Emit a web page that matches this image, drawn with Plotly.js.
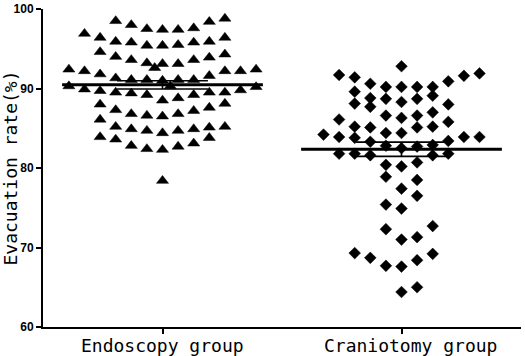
<!DOCTYPE html>
<html><head><meta charset="utf-8">
<script src="https://cdn.plot.ly/plotly-3.0.1.min.js"></script>
<style>html,body{margin:0;padding:0;background:#fff;} #chart{width:525px;height:356px;}</style>
</head><body><div id="chart"></div>
<script>
// ---- data ----
const groups = ['Endoscopy group', 'Craniotomy group'];

const endoscopyRates = [
  98.5, 98.0, 97.5, 97.4, 97.4, 97.6, 98.4, 98.8,
  96.9, 96.4, 95.9, 95.8, 95.4, 95.4, 95.5, 95.8, 95.9, 96.4,
  94.6, 94.0, 93.6, 93.2, 93.1, 93.1, 93.6, 93.9, 94.3, 92.6,
  92.4, 92.2, 91.8, 91.1, 91.1, 91.1, 91.0, 91.1, 91.3, 91.6, 92.2, 92.2, 92.4,
  90.3, 89.9, 89.7, 89.5, 89.4, 89.2, 88.5, 88.8, 89.2, 89.5, 89.5, 89.8, 90.3, 90.2,
  88.0, 87.3, 86.8, 86.6, 86.5, 86.8, 87.2, 87.6, 88.1,
  86.1, 85.2, 84.9, 84.7, 84.4, 84.7, 84.9, 85.1, 85.2,
  83.9, 83.6, 82.8, 82.4, 82.3, 82.7, 83.1, 83.8,
  78.4
];

const craniotomyRates = [
  92.8, 91.9, 91.7, 91.6, 91.4, 90.9, 90.6, 90.2, 90.2, 90.2, 90.2,
  89.6, 89.1, 88.8, 88.7, 88.7, 88.3, 88.1, 88.0, 87.7, 87.0,
  86.6, 86.6, 86.3, 86.1, 85.8, 85.2, 85.2, 85.1, 85.1, 84.4, 84.4, 84.2,
  83.9, 83.9, 83.9, 83.8, 83.4, 83.3, 82.9, 82.8, 82.7, 82.5,
  81.8, 81.8, 81.8, 81.6, 81.6, 80.7, 80.4, 80.2,
  78.9, 78.5, 77.4, 76.5, 75.4, 74.9, 72.7, 72.3, 71.3, 71.0,
  69.3, 69.2, 68.7, 68.4, 67.7, 67.6, 65.0, 64.4
];

const yTickValues = [60, 70, 80, 90, 100];
const yTickLabels = ['60', '70', '80', '90', '100'];
const yTitle = 'Evacuation rate(%)';

// ---- layout geometry / styling ----
const W = 525, H = 356;
const M = {l: 43, r: 4, t: 9, b: 29};
const xRange = [-0.5, 1.5];
const pxPerX = (W - M.l - M.r) / (xRange[1] - xRange[0]);
const colStep = 15.6 / pxPerX;   // horizontal spacing of swarm columns
const rowSpan = 1.88;            // value span grouped into one swarm row
const maxCols = 13;              // widest row; extra points go between centre columns

// column-scatter (beeswarm) placement computed from the values
function swarm(values, center) {
  const v = values.slice().sort((a, b) => a - b);
  const xs = [], ys = [];
  let i = 0, row = 0;
  while (i < v.length) {
    const start = v[i];
    const members = [];
    while (i < v.length && v[i] < start + rowSpan) { members.push(v[i]); i++; }
    const dir = row % 2 === 1 ? -1 : 1;
    members.forEach((val, k) => {
      let slot;
      if (k < maxCols) {
        const m = Math.ceil(k / 2);
        slot = k === 0 ? 0 : (k % 2 === 1 ? dir * m : -dir * m);
      } else {
        const e = k - maxCols;
        const m = Math.floor(e / 2) + 0.5;
        slot = e % 2 === 0 ? dir * m : -dir * m;
      }
      xs.push(center + slot * colStep);
      ys.push(val);
    });
    row++;
  }
  return {xs, ys};
}

function stats(values) {
  const n = values.length;
  const mean = values.reduce((a, b) => a + b, 0) / n;
  const sd = Math.sqrt(values.reduce((a, b) => a + (b - mean) * (b - mean), 0) / (n - 1));
  return {mean, sem: sd / Math.sqrt(n)};
}

const series = [endoscopyRates, craniotomyRates];
const symbols = ['triangle-up', 'diamond'];
const sizes = [10.5, 9];
const traces = [];

series.forEach((vals, gi) => {
  const s = swarm(vals, gi);
  traces.push({
    type: 'scatter', mode: 'markers', x: s.xs, y: s.ys,
    marker: {symbol: symbols[gi], size: sizes[gi], color: '#000', line: {color: '#000', width: 0.5}},
    hoverinfo: 'y', showlegend: false
  });
});

series.forEach((vals, gi) => {
  const st = stats(vals);
  const hw = 0.42, cw = 0.19;
  traces.push({
    type: 'scatter', mode: 'lines',
    x: [gi - hw, gi + hw], y: [st.mean, st.mean],
    line: {color: '#000', width: 3}, hoverinfo: 'skip', showlegend: false
  });
  traces.push({
    type: 'scatter', mode: 'lines',
    x: [gi - cw, gi + cw, null, gi - cw, gi + cw, null, gi, gi],
    y: [st.mean + st.sem, st.mean + st.sem, null, st.mean - st.sem, st.mean - st.sem, null, st.mean - st.sem, st.mean + st.sem],
    line: {color: '#000', width: 1.6}, hoverinfo: 'skip', showlegend: false
  });
});

const labelFont = {family: 'DejaVu Sans Mono', size: 18, color: '#000'};

const layout = {
  width: W, height: H,
  margin: M,
  paper_bgcolor: '#fff', plot_bgcolor: '#fff',
  showlegend: false,
  xaxis: {
    range: xRange, tickvals: [0, 1], showticklabels: false,
    showline: true, linecolor: '#000', linewidth: 2,
    ticks: 'outside', ticklen: 5, tickwidth: 2, tickcolor: '#000',
    showgrid: false, zeroline: false, automargin: false, fixedrange: true
  },
  yaxis: {
    range: [60, 100], tickvals: yTickValues, ticktext: yTickLabels,
    showline: true, linecolor: '#000', linewidth: 2,
    ticks: 'outside', ticklen: 5, tickwidth: 2, tickcolor: '#000',
    tickfont: {family: 'Liberation Sans', size: 12, color: '#000', weight: 'bold'},
    title: {text: yTitle, font: labelFont, standoff: 0},
    showgrid: false, zeroline: false, automargin: false, fixedrange: true
  },
  annotations: groups.map((g, i) => ({
    x: i, xref: 'x', y: 0, yref: 'paper', yanchor: 'top', xanchor: 'center',
    xshift: i === 1 ? 9 : 0, yshift: -6,
    text: g, showarrow: false, font: labelFont
  }))
};

Plotly.newPlot('chart', traces, layout, {staticPlot: true, displayModeBar: false});
</script>
</body></html>
